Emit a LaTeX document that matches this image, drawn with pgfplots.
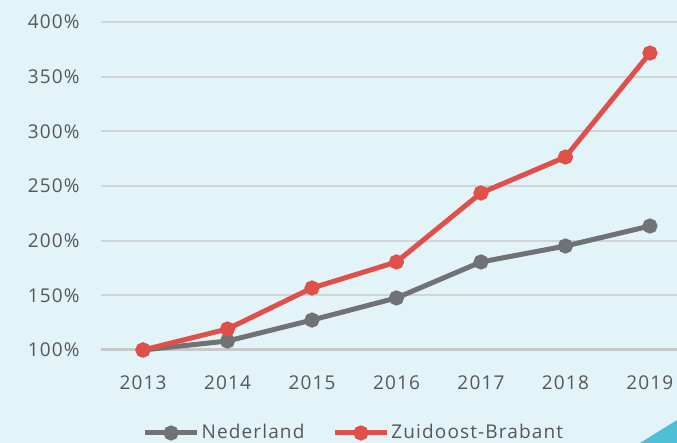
\documentclass[border=0pt]{standalone}
\usepackage{pgfplots}
\pgfplotsset{compat=1.18}
\usepackage{fontspec}
\setmainfont[LetterSpace=6]{Open Sans}
\definecolor{bgblue}{HTML}{E3F4F8}
\definecolor{teal}{HTML}{4FBFD8}
\definecolor{nlgrey}{HTML}{707275}
\definecolor{zbred}{HTML}{E0504A}
\definecolor{gridc}{HTML}{D0D4D6}
\definecolor{basec}{HTML}{C6C8C9}
\definecolor{txt}{HTML}{555759}

\begin{document}
\fontsize{19}{22}\selectfont
\begin{tikzpicture}[x=1pt,y=1pt]
\fill[bgblue] (0,0) rectangle (677,443);
\begin{axis}[
    at={(101pt,93pt)}, anchor=south west,
    width=576pt, height=328pt, scale only axis,
    xmin=2012.503, xmax=2019.32,
    ymin=100, ymax=400,
    axis line style={draw=none},
    xtick={2013,...,2019},
    ytick={100,150,...,400},
    xticklabel style={/pgf/number format/1000 sep={}},
    yticklabel={\pgfmathprintnumber{\tick}\%},
    /pgf/number format/assume math mode=true,
    ticklabel style={text=txt, font=\fontsize{19}{22}\selectfont},
    tick style={draw=none},
    ymajorgrids,
    grid style={gridc, line width=1.8pt},
    xticklabel shift=19pt,
    yticklabel shift=15pt,
    clip=false,
    legend columns=2,
    legend style={at={(0.439,-0.253)}, anchor=center, draw=none, fill=none,
      font=\fontsize{19}{22}\selectfont, text=txt,
      /tikz/every even column/.append style={column sep=26pt}},
    legend image code/.code={\draw[mark repeat=2,mark phase=2] plot coordinates {(0pt,0pt)(26pt,0pt)(52pt,0pt)};},
]
\draw[basec, line width=3pt] (axis cs:2012.503,100) -- (axis cs:2019.32,100);
\addplot[nlgrey, line width=5pt, mark=*, mark size=5pt] coordinates {
(2013,100) (2014,108.2) (2015,127.4) (2016,147.6) (2017,180.5) (2018,195.1) (2019,213.4)};
\addlegendentry{Nederland}
\addplot[zbred, line width=5pt, mark=*, mark size=5pt] coordinates {
(2013,100) (2014,119.2) (2015,156.7) (2016,180.5) (2017,243.6) (2018,276.5) (2019,371.6)};
\addlegendentry{Zuidoost-Brabant}
\end{axis}
\fill[teal] (640,0) -- (677,0) -- (677,23) -- cycle;
\pgfresetboundingbox
\path[use as bounding box] (0,0) rectangle (677,443);
\end{tikzpicture}
\end{document}
